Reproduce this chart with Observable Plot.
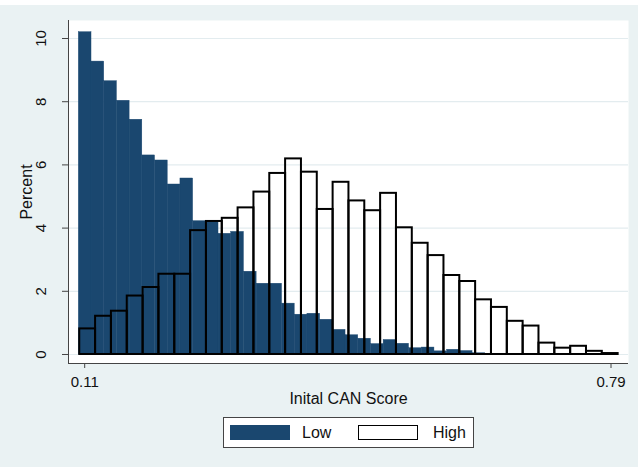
<!DOCTYPE html>
<html>
<head>
<meta charset="utf-8">
<script src="https://cdn.jsdelivr.net/npm/d3@7"></script>
<script src="https://cdn.jsdelivr.net/npm/@observablehq/plot@0.6"></script>
<style>
  html, body { margin: 0; padding: 0; background: #ffffff; }
  #wrap { position: relative; width: 638px; height: 462px; margin-top: 5px; background: #eaf2f3; font-family: "Liberation Sans", Arial, Helvetica, sans-serif; overflow: hidden; }
  #chart { position: absolute; left: 0; top: -5px; }
  #legend { position: absolute; left: 223px; top: 412px; width: 249px; height: 29px; background: #fff; border: 1px solid #444; box-sizing: content-box; }
  .sw { position: absolute; top: 7px; width: 60px; height: 15px; }
  .lt { position: absolute; top: 5px; font-size: 16px; color: #111; line-height: 19px; }
</style>
</head>
<body>
<div id="wrap">
  <div id="chart"></div>
  <div id="legend">
    <div class="sw" style="left:6px; background:#1a476f;"></div>
    <div class="lt" style="left:78px;">Low</div>
    <div class="sw" style="left:134px; width:58px; height:13px; background:#fff; border:1px solid #000;"></div>
    <div class="lt" style="left:209px;">High</div>
  </div>
</div>
<script>
// Histogram bins (percent per bin)
const lowStart = 0.1024, lowWidth = 0.01641;
const lowPct = [10.20, 9.27, 8.65, 8.03, 7.43, 6.30, 6.14, 5.38, 5.57, 4.22, 4.20, 3.82,
  3.88, 2.62, 2.24, 2.24, 1.61, 1.26, 1.29, 1.10, 0.78, 0.61, 0.50, 0.33,
  0.46, 0.34, 0.20, 0.22, 0.10, 0.15, 0.11, 0.04, 0.02, 0.00, 0.02, 0.02];
const highStart = 0.1036, highWidth = 0.02046;
const highPct = [0.81, 1.21, 1.37, 1.85, 2.12, 2.54, 2.54, 3.92, 4.21, 4.31, 4.64, 5.14,
  5.73, 6.19, 5.77, 4.59, 5.45, 4.86, 4.55, 5.10, 4.01, 3.52, 3.13, 2.50,
  2.31, 1.73, 1.49, 1.05, 0.90, 0.36, 0.20, 0.26, 0.10, 0.03];
const xTicks = [0.11, 0.79];
const yTicks = [0, 2, 4, 6, 8, 10];
const seriesNames = ["Low", "High"];

const low = lowPct.map((v, i) => ({x1: lowStart + i * lowWidth, x2: lowStart + (i + 1) * lowWidth, y: v, s: seriesNames[0]}));
const high = highPct.map((v, i) => ({x1: highStart + i * highWidth, x2: highStart + (i + 1) * highWidth, y: v, s: seriesNames[1]}));

const xDom = [0.08907, 0.81261];
const yDom = [-0.285, 10.57];
const axisColor = "#444";

const chart = Plot.plot({
  width: 638,
  height: 410,
  marginLeft: 68,
  marginRight: 10,
  marginTop: 20,
  marginBottom: 47,
  style: {background: "transparent", fontFamily: "'Liberation Sans', Arial, Helvetica, sans-serif", color: "#111"},
  x: {domain: xDom, axis: null},
  y: {domain: yDom, axis: null},
  marks: [
    Plot.frame({fill: "white", stroke: null}),
    Plot.ruleY(yTicks, {stroke: "#e3ecef", strokeWidth: 1.2}),
    Plot.rectY(low, {x1: "x1", x2: "x2", y1: 0, y2: "y", fill: "#1a476f", stroke: "#1a476f", strokeWidth: 0.4}),
    Plot.rectY(high, {x1: "x1", x2: "x2", y1: 0, y2: "y", fill: "none", stroke: "#000", strokeWidth: 2}),
    Plot.ruleX([xDom[0]], {y1: yDom[0], y2: yDom[1], stroke: axisColor, strokeWidth: 1}),
    Plot.ruleY([yDom[0]], {x1: xDom[0], x2: xDom[1], stroke: axisColor, strokeWidth: 1}),
    Plot.axisY({ticks: yTicks, tickSize: 6, tickFormat: () => "", stroke: axisColor, label: null}),
    Plot.axisX({ticks: xTicks, tickSize: 5, tickFormat: () => "", stroke: axisColor, label: null}),
    Plot.text(yTicks, {y: d => d, text: d => String(d), frameAnchor: "left", dx: -27, rotate: -90, textAnchor: "middle", lineAnchor: "middle", fontSize: 15, fill: "#111"}),
    Plot.text(xTicks, {x: d => d, text: d => d.toFixed(2), frameAnchor: "bottom", dy: 18.5, textAnchor: "middle", lineAnchor: "middle", fontSize: 15, fill: "#111"}),
    Plot.text(["Percent"], {frameAnchor: "left", dx: -42, rotate: -90, textAnchor: "middle", lineAnchor: "middle", fontSize: 16, fill: "#111"}),
    Plot.text(["Inital CAN Score"], {frameAnchor: "bottom", dy: 35, textAnchor: "middle", lineAnchor: "middle", fontSize: 16, fill: "#111"})
  ]
});
document.getElementById("chart").appendChild(chart);
</script>
</body>
</html>
